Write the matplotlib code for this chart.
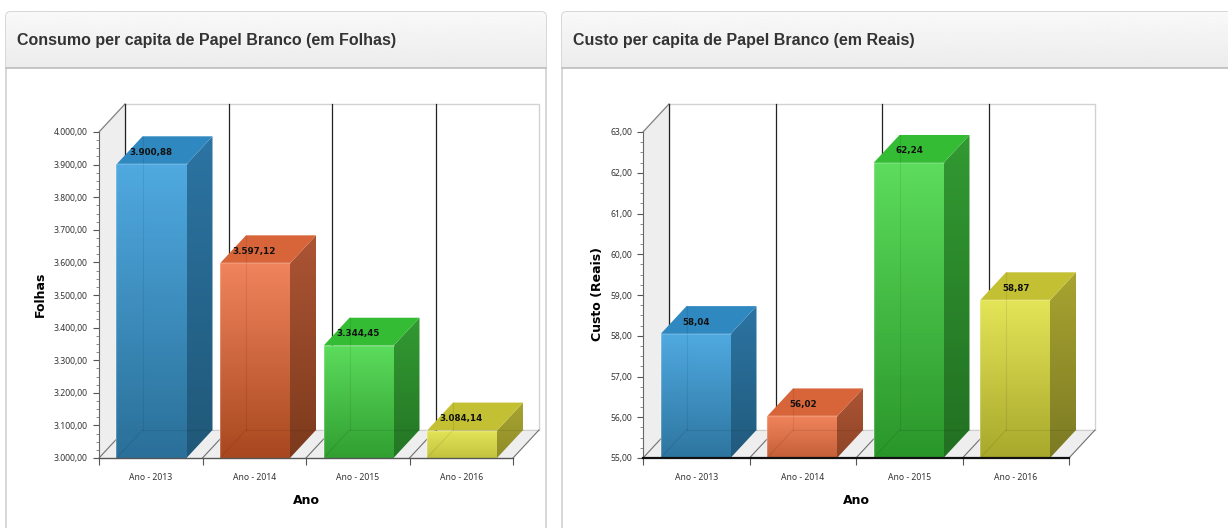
import matplotlib
matplotlib.use("Agg")
import matplotlib.pyplot as plt
import numpy as np
from matplotlib.patches import FancyBboxPatch, Polygon

anos = ["Ano - 2013", "Ano - 2014", "Ano - 2015", "Ano - 2016"]
folhas = [3900.88, 3597.12, 3344.45, 3084.14]
folhas_txt = ["3.900,88", "3.597,12", "3.344,45", "3.084,14"]
folhas_ticks = [3000, 3100, 3200, 3300, 3400, 3500, 3600, 3700, 3800, 3900, 4000]
folhas_ticklabels = ["3.000,00", "3.100,00", "3.200,00", "3.300,00", "3.400,00", "3.500,00",
                     "3.600,00", "3.700,00", "3.800,00", "3.900,00", "4.000,00"]
custo = [58.04, 56.02, 62.24, 58.87]
custo_txt = ["58,04", "56,02", "62,24", "58,87"]
custo_ticks = [55, 56, 57, 58, 59, 60, 61, 62, 63]
custo_ticklabels = ["55,00", "56,00", "57,00", "58,00", "59,00", "60,00", "61,00", "62,00", "63,00"]

# colours per bar: front top, front bottom, top face, side top, side bottom
blue = ["#4fa9e0", "#2a7099", "#2f88c0", "#2c74a3", "#205878"]
orange = ["#f0845c", "#a84820", "#d8643a", "#ac5535", "#7c3a1c"]
green = ["#5cdc5c", "#2a962a", "#34bc34", "#329a32", "#227022"]
yellow = ["#e4e458", "#a8a82c", "#c4c034", "#a8a430", "#7c7a24"]

DEPTH_X = 26
DEPTH_Y = 28
W, H = 1228, 528

fig = plt.figure(figsize=(W / 100, H / 100), dpi=100)

# panels behind the charts, in pixels
bg = fig.add_axes([0, 0, 1, 1], zorder=0)
bg.axis("off")
for x0, x1, title in [(6, 546, "Consumo per capita de Papel Branco (em Folhas)"),
                      (562, 1300, "Custo per capita de Papel Branco (em Reais)")]:
    box = FancyBboxPatch((x0, 12), x1 - x0, 600, boxstyle="round,pad=0,rounding_size=4",
                         fc="white", ec="#c8c8c8", lw=1)
    bg.add_patch(box)
    head = bg.imshow(np.linspace(0.975, 0.925, 50).reshape(-1, 1), extent=(x0, x1, 68, 12),
                     cmap="gray", vmin=0, vmax=1, aspect="auto", zorder=2)
    head.set_clip_path(box)
    bg.plot([x0, x1], [68, 68], color="#bdbdbd", lw=1.2, zorder=3)
    bg.text(x0 + 11, 40, title, family="Liberation Sans", weight="bold", fontsize=11.55,
            color="#333333", va="center", zorder=4)
bg.set_xlim(0, W)
bg.set_ylim(H, 0)


def mix(c0, c1, amount):
    a = np.array(matplotlib.colors.to_rgb(c0))
    b = np.array(matplotlib.colors.to_rgb(c1))
    return a + (b - a) * amount


def gradient(ax, pts, c_bottom, c_top, ymin, ymax):
    poly = Polygon(pts, closed=True, fc="none", ec="none", clip_on=False, zorder=3)
    ax.add_patch(poly)
    t = np.linspace(0, 1, 64).reshape(-1, 1, 1)
    img = c_bottom + (c_top - c_bottom) * t
    xs = [p[0] for p in pts]
    im = ax.imshow(img, extent=(min(xs), max(xs), ymin, ymax), origin="lower",
                   aspect="auto", zorder=3)
    im.set_clip_path(poly)
    im.set_clip_box(fig.bbox)


def chart(x0, x1, label_x, values, texts, ticks, ticklabels, ylabel, bottom_color, bottom_lw):
    ax = fig.add_axes([x0 / W, (H - 458) / H, (x1 - x0) / W, 326 / H], zorder=1)
    ax.patch.set_alpha(0)
    n = len(values)
    ymin, ymax = ticks[0], ticks[-1]
    dx = DEPTH_X / ((x1 - x0) / n)
    dy = DEPTH_Y / (326 / (ymax - ymin))
    top = ymax + dy
    floor = ymin + dy

    # back wall, side wall, floor
    ax.add_patch(Polygon([(dx, floor), (n + dx, floor), (n + dx, top), (dx, top)], fc="white",
                         ec="#d2d2d2", lw=1, clip_on=False, zorder=1))
    ax.add_patch(Polygon([(0, ymin), (dx, floor), (dx, top), (0, ymax)], fc="#eeeeee",
                         ec="none", clip_on=False, zorder=1))
    ax.add_patch(Polygon([(0, ymin), (n, ymin), (n + dx, floor), (dx, floor)], fc="#eeeeee",
                         ec="none", clip_on=False, zorder=1))
    ax.plot([0, dx], [ymax, top], color="#808080", lw=0.9, clip_on=False, zorder=2)
    ax.plot([dx, n + dx], [floor, floor], color="#cfcfcf", lw=0.8, clip_on=False, zorder=2)
    for i in range(n + 1):
        ax.plot([i, i + dx], [ymin, floor], color="#707070", lw=0.8, clip_on=False, zorder=2)
        if i < n:
            ax.plot([i + dx, i + dx], [floor, top], color="#222222", lw=0.9, clip_on=False, zorder=2)

    bar_l = 17.5 / ((x1 - x0) / n)
    bar_w = 70 / ((x1 - x0) / n)
    for i, (v, cols) in enumerate(zip(values, [blue, orange, green, yellow])):
        l, r = i + bar_l, i + bar_l + bar_w
        # short bars never reach their darkest colour at the bottom
        amount = min(1, 0.45 + 1.2 * (v - ymin) / (ymax - ymin))
        side_b = mix(cols[3], cols[4], amount)
        front_b = mix(cols[0], cols[1], amount)
        gradient(ax, [(r, ymin), (r + dx, floor), (r + dx, v + dy), (r, v)], side_b,
                 mix(cols[3], cols[3], 0), ymin, v + dy)
        ax.add_patch(Polygon([(l, v), (r, v), (r + dx, v + dy), (l + dx, v + dy)], fc=cols[2],
                             ec="none", clip_on=False, zorder=3))
        gradient(ax, [(l, ymin), (r, ymin), (r, v), (l, v)], front_b, mix(cols[0], cols[0], 0), ymin, v)
        # inner edges showing through the glassy front
        ax.plot([l + dx, l + dx], [floor, v + dy], color="black", alpha=0.08, lw=0.8, zorder=4, clip_on=False)
        ax.plot([l, l + dx], [ymin, floor], color="black", alpha=0.08, lw=0.8, zorder=4, clip_on=False)
        ax.plot([l + dx, r + dx], [floor, floor], color="black", alpha=0.08, lw=0.8, zorder=4, clip_on=False)
        # lighter rim on the front
        ax.plot([l, l], [ymin, v], color="white", alpha=0.22, lw=1.6, zorder=4, clip_on=False)
        ax.plot([l, r], [v, v], color="white", alpha=0.18, lw=1.2, zorder=4, clip_on=False)
        ax.annotate(texts[i], (i + 0.5, v), xytext=(0, 12), textcoords="offset pixels", ha="center",
                    va="center", fontsize=6.3, weight="bold", color="#111111", zorder=5,
                    annotation_clip=False)

    ax.set_xlim(0, n)
    ax.set_ylim(ymin, ymax)
    ax.set_yticks(ticks)
    ax.set_yticklabels(ticklabels, family="Noto Sans")
    step = ticks[1] - ticks[0]
    ax.set_yticks([t + step * k / 4 for t in ticks[:-1] for k in range(1, 4)], minor=True)
    ax.set_xticks(range(n + 1))
    ax.set_xticklabels([])
    ax.set_xticks([i + 0.5 for i in range(n)], minor=True)
    ax.set_xticklabels(anos, minor=True, family="Noto Sans")
    ax.tick_params(axis="y", which="major", length=4, width=0.8, color="#555555",
                   labelsize=6.2, labelcolor="#333333", pad=4)
    ax.tick_params(axis="y", which="minor", length=2, width=0.6, color="#777777")
    ax.tick_params(axis="x", which="major", length=5, width=0.8, color="#555555")
    ax.tick_params(axis="x", which="minor", length=0, labelsize=6.2, labelcolor="#333333", pad=11)
    for s in ["top", "right"]:
        ax.spines[s].set_visible(False)
    ax.spines["left"].set_color("#666666")
    ax.spines["left"].set_linewidth(0.8)
    ax.spines["bottom"].set_color(bottom_color)
    ax.spines["bottom"].set_linewidth(bottom_lw)
    ax.spines["bottom"].set_zorder(6)
    ax.set_xlabel("Ano", fontsize=9, weight="bold", labelpad=8.5)
    ax.set_ylabel(ylabel, fontsize=9, weight="bold")
    ax.yaxis.set_label_coords((label_x - x0) / (x1 - x0), 0.503)
    return ax


chart(99, 513, 47, folhas, folhas_txt, folhas_ticks, folhas_ticklabels, "Folhas", "#555555", 1.0)
chart(643, 1069, 604, custo, custo_txt, custo_ticks, custo_ticklabels, "Custo (Reais)", "#111111", 1.6)

fig.savefig("out.png", dpi=100)
